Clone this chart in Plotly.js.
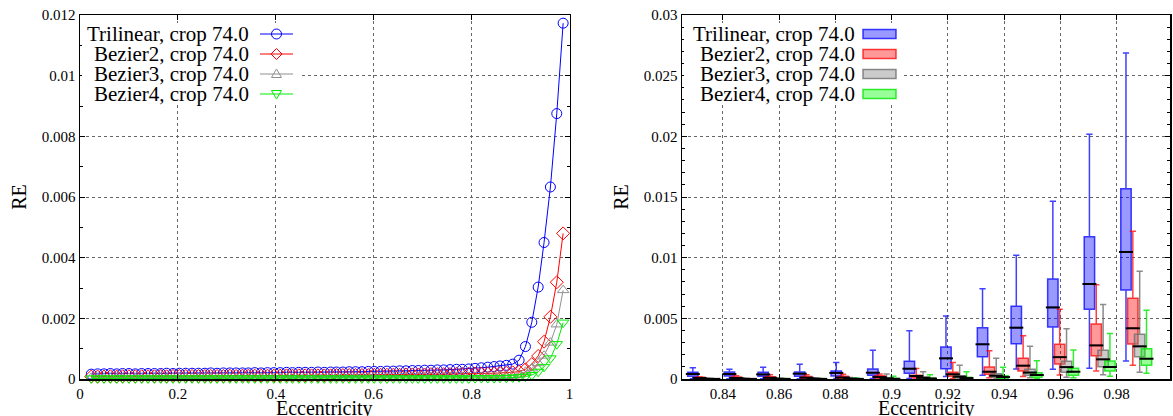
<!DOCTYPE html>
<html>
<head>
<meta charset="utf-8">
<script src="https://cdn.plot.ly/plotly-3.0.1.min.js"></script>
<style>html,body{margin:0;padding:0;background:#fff;}#chart{width:1173px;height:416px;}</style>
</head>
<body>
<div id="chart"></div>
<script>
// ---------- data ----------
const SERIES_NAMES = ['Trilinear, crop 74.0', 'Bezier2, crop 74.0', 'Bezier3, crop 74.0', 'Bezier4, crop 74.0'];

const ECC = [0.023,0.036,0.049,0.062,0.075,0.087,0.100,0.113,0.126,0.139,
  0.152,0.165,0.177,0.190,0.203,0.216,0.229,0.242,0.255,0.267,
  0.280,0.293,0.306,0.319,0.332,0.344,0.357,0.370,0.383,0.396,
  0.409,0.422,0.434,0.447,0.460,0.473,0.486,0.499,0.512,0.524,
  0.537,0.550,0.563,0.576,0.589,0.601,0.614,0.627,0.640,0.653,
  0.666,0.679,0.691,0.704,0.717,0.730,0.743,0.756,0.769,0.781,
  0.794,0.807,0.820,0.833,0.846,0.858,0.871,0.884,0.897,0.910,
  0.923,0.936,0.948,0.961,0.974,0.987];

const TRILINEAR = [0.00016,0.00017,0.00017,0.00018,0.00017,0.00018,0.00018,0.00017,0.00018,0.00018,
  0.00018,0.00018,0.00019,0.00018,0.00019,0.00019,0.00019,0.00019,0.00019,0.00020,
  0.00019,0.00020,0.00020,0.00020,0.00020,0.00020,0.00021,0.00020,0.00021,0.00021,
  0.00021,0.00022,0.00021,0.00022,0.00022,0.00022,0.00023,0.00022,0.00023,0.00023,
  0.00023,0.00024,0.00024,0.00024,0.00025,0.00025,0.00025,0.00026,0.00026,0.00027,
  0.00027,0.00028,0.00028,0.00029,0.00029,0.00030,0.00030,0.00031,0.00032,0.00032,
  0.00033,0.00035,0.00037,0.00039,0.00041,0.00043,0.00045,0.00049,0.00062,0.00107,
  0.00187,0.00303,0.00450,0.00633,0.00875,0.01173];

const BEZIER2 = [0.00008,0.00008,0.00008,0.00009,0.00008,0.00009,0.00009,0.00009,0.00009,0.00009,
  0.00009,0.00010,0.00009,0.00010,0.00010,0.00010,0.00010,0.00010,0.00010,0.00010,
  0.00010,0.00010,0.00011,0.00010,0.00011,0.00011,0.00011,0.00011,0.00011,0.00011,
  0.00011,0.00012,0.00011,0.00012,0.00012,0.00012,0.00012,0.00012,0.00012,0.00013,
  0.00013,0.00013,0.00013,0.00013,0.00013,0.00014,0.00014,0.00014,0.00014,0.00014,
  0.00015,0.00015,0.00015,0.00015,0.00016,0.00016,0.00016,0.00016,0.00017,0.00017,
  0.00017,0.00018,0.00018,0.00018,0.00019,0.00020,0.00021,0.00022,0.00024,0.00032,
  0.00049,0.00076,0.00123,0.00205,0.00319,0.00480];

const BEZIER3 = [0.00004,0.00004,0.00004,0.00004,0.00004,0.00004,0.00004,0.00004,0.00004,0.00004,
  0.00005,0.00005,0.00005,0.00005,0.00005,0.00005,0.00005,0.00005,0.00005,0.00005,
  0.00005,0.00005,0.00005,0.00005,0.00005,0.00005,0.00005,0.00005,0.00005,0.00005,
  0.00006,0.00006,0.00006,0.00006,0.00006,0.00006,0.00006,0.00006,0.00006,0.00006,
  0.00006,0.00006,0.00006,0.00006,0.00006,0.00006,0.00006,0.00006,0.00006,0.00006,
  0.00007,0.00007,0.00007,0.00007,0.00007,0.00007,0.00007,0.00007,0.00007,0.00007,
  0.00007,0.00007,0.00007,0.00008,0.00008,0.00009,0.00010,0.00011,0.00014,0.00024,
  0.00035,0.00052,0.00077,0.00120,0.00180,0.00293];

const BEZIER4 = [0.00002,0.00002,0.00002,0.00002,0.00002,0.00002,0.00002,0.00002,0.00002,0.00002,
  0.00002,0.00002,0.00002,0.00002,0.00002,0.00002,0.00002,0.00002,0.00002,0.00002,
  0.00002,0.00002,0.00002,0.00002,0.00002,0.00002,0.00002,0.00002,0.00002,0.00002,
  0.00002,0.00002,0.00002,0.00002,0.00002,0.00002,0.00002,0.00002,0.00002,0.00002,
  0.00002,0.00002,0.00002,0.00002,0.00002,0.00002,0.00002,0.00002,0.00002,0.00002,
  0.00002,0.00002,0.00002,0.00002,0.00002,0.00002,0.00002,0.00002,0.00002,0.00002,
  0.00002,0.00003,0.00003,0.00003,0.00003,0.00004,0.00004,0.00005,0.00006,0.00008,
  0.00013,0.00024,0.00040,0.00068,0.00115,0.00186];

// box-plot groups (right panel)
const BOX_ECC = [0.833,0.846,0.858,0.871,0.884,0.897,0.910,0.923,0.936,0.948,0.961,0.974,0.987];

const TRI_LO  = [0.00003,0.00003,0.00003,0.00003,0.00004,0.00005,0.00005,0.00020,0.00030,0.00082,0.00080,0.00088,0.00148];
const TRI_Q1  = [0.00022,0.00025,0.00022,0.00022,0.00025,0.00030,0.00047,0.00085,0.00184,0.00291,0.00429,0.00574,0.00733];
const TRI_MED = [0.00041,0.00041,0.00038,0.00044,0.00050,0.00052,0.00085,0.00170,0.00286,0.00423,0.00590,0.00783,0.01047];
const TRI_Q3  = [0.00055,0.00058,0.00055,0.00058,0.00066,0.00082,0.00147,0.00264,0.00423,0.00600,0.00824,0.01173,0.01569];
const TRI_HI  = [0.00093,0.00080,0.00096,0.00121,0.00135,0.00236,0.00397,0.00520,0.00744,0.01020,0.01464,0.02017,0.02687];

const BZ2_LO  = [0.00000,0.00000,0.00001,0.00001,0.00001,0.00002,0.00003,0.00005,0.00010,0.00020,0.00033,0.00066,0.00113];
const BZ2_Q1  = [0.00003,0.00003,0.00004,0.00004,0.00005,0.00008,0.00014,0.00022,0.00039,0.00065,0.00124,0.00192,0.00288];
const BZ2_MED = [0.00008,0.00008,0.00010,0.00011,0.00012,0.00016,0.00025,0.00039,0.00060,0.00110,0.00180,0.00277,0.00418];
const BZ2_Q3  = [0.00015,0.00016,0.00019,0.00020,0.00022,0.00026,0.00030,0.00055,0.00099,0.00170,0.00286,0.00453,0.00665];
const BZ2_HI  = [0.00019,0.00027,0.00036,0.00036,0.00040,0.00041,0.00087,0.00137,0.00233,0.00357,0.00574,0.00777,0.01217];

const BZ3_LO  = [0.00000,0.00000,0.00000,0.00000,0.00000,0.00000,0.00001,0.00002,0.00004,0.00010,0.00014,0.00036,0.00055];
const BZ3_Q1  = [0.00001,0.00001,0.00001,0.00001,0.00001,0.00002,0.00005,0.00010,0.00014,0.00030,0.00055,0.00101,0.00184];
const BZ3_MED = [0.00002,0.00002,0.00002,0.00003,0.00003,0.00005,0.00010,0.00019,0.00027,0.00053,0.00098,0.00162,0.00269];
const BZ3_Q3  = [0.00003,0.00003,0.00004,0.00004,0.00005,0.00008,0.00017,0.00027,0.00044,0.00081,0.00146,0.00236,0.00368];
const BZ3_HI  = [0.00006,0.00007,0.00008,0.00010,0.00013,0.00041,0.00060,0.00113,0.00170,0.00270,0.00415,0.00613,0.00888];

const BZ4_LO  = [0.00000,0.00000,0.00000,0.00000,0.00000,0.00000,0.00000,0.00001,0.00002,0.00005,0.00010,0.00022,0.00047];
const BZ4_Q1  = [0.00000,0.00000,0.00000,0.00000,0.00000,0.00001,0.00002,0.00003,0.00004,0.00014,0.00030,0.00066,0.00113];
const BZ4_MED = [0.00001,0.00001,0.00001,0.00001,0.00001,0.00002,0.00004,0.00008,0.00016,0.00033,0.00060,0.00099,0.00167];
const BZ4_Q3  = [0.00001,0.00001,0.00002,0.00002,0.00002,0.00004,0.00008,0.00014,0.00027,0.00052,0.00088,0.00148,0.00250];
const BZ4_HI  = [0.00003,0.00003,0.00004,0.00005,0.00008,0.00022,0.00035,0.00060,0.00096,0.00150,0.00238,0.00374,0.00566];

const X_TITLE = 'Eccentricity';
const Y_TITLE = 'RE';

// ---------- styling ----------
const W = 1173, H = 416;
const FONT = 'Liberation Serif, Times New Roman, serif';
const LINE_COLORS = ['#0000ff', '#ff0000', '#909090', '#00ee00'];
const BOX_LINE = ['rgba(0,0,255,0.75)', 'rgba(255,0,0,0.75)', 'rgba(110,110,110,0.8)', 'rgba(0,230,0,0.8)'];
const BOX_FILL = ['rgba(0,0,255,0.4)', 'rgba(255,0,0,0.4)', 'rgba(140,140,140,0.45)', 'rgba(0,255,0,0.4)'];
const SYMBOLS = ['circle-open', 'diamond-open', 'triangle-up-open', 'triangle-down-open'];
const SIZES = [10, 10, 10, 10];
const BOX_OFFSETS = [-0.00365, -0.00122, 0.00122, 0.00365];
const BOX_W = 0.0037;

const lineSeries = [TRILINEAR, BEZIER2, BEZIER3, BEZIER4];
const boxStats = [
  [TRI_LO, TRI_Q1, TRI_MED, TRI_Q3, TRI_HI],
  [BZ2_LO, BZ2_Q1, BZ2_MED, BZ2_Q3, BZ2_HI],
  [BZ3_LO, BZ3_Q1, BZ3_MED, BZ3_Q3, BZ3_HI],
  [BZ4_LO, BZ4_Q1, BZ4_MED, BZ4_Q3, BZ4_HI]
];

const traces = [];
lineSeries.forEach((ys, i) => {
  traces.push({
    type: 'scatter', mode: 'lines+markers', x: ECC, y: ys, xaxis: 'x', yaxis: 'y',
    name: SERIES_NAMES[i], showlegend: false, cliponaxis: false, hoverinfo: 'skip',
    line: {color: LINE_COLORS[i], width: 1},
    marker: {symbol: SYMBOLS[i], size: SIZES[i], color: LINE_COLORS[i], line: {width: 1, color: LINE_COLORS[i]}}
  });
});

boxStats.forEach((st, i) => {
  const xs = BOX_ECC.map(v => v + BOX_OFFSETS[i]);
  traces.push({
    type: 'box', orientation: 'v', x: xs, xaxis: 'x2', yaxis: 'y2',
    lowerfence: st[0], q1: st[1], median: st[2], q3: st[3], upperfence: st[4],
    name: SERIES_NAMES[i], showlegend: false, boxpoints: false, hoverinfo: 'skip',
    width: BOX_W, whiskerwidth: 0.6,
    fillcolor: BOX_FILL[i], line: {color: BOX_LINE[i], width: 1.5}
  });
});
boxStats.forEach((st, i) => {
  const xs = BOX_ECC.map(v => v + BOX_OFFSETS[i]);
  traces.push({
    type: 'scatter', mode: 'markers', x: xs, y: st[2], xaxis: 'x2', yaxis: 'y2',
    showlegend: false, hoverinfo: 'skip', cliponaxis: false,
    marker: {symbol: 'line-ew', size: 10, color: '#000', line: {width: 2, color: '#000'}}
  });
});

// ---------- legends (gnuplot style: opaque key box, text then sample) ----------
const shapes = [];
const annotations = [];
// opaque white key backgrounds (hide the dotted grid behind the keys)
shapes.push({type: 'rect', layer: 'above', xref: 'paper', yref: 'paper',
  x0: 82 / W, x1: 299 / W, y0: (H - 104) / H, y1: (H - 23) / H, fillcolor: '#fff', line: {width: 0}});
shapes.push({type: 'rect', layer: 'above', xref: 'paper', yref: 'paper',
  x0: 684 / W, x1: 901 / W, y0: (H - 104) / H, y1: (H - 23) / H, fillcolor: '#fff', line: {width: 0}});

const rowY = i => (H - (34 + 20 * i)) / H;
const markerPaths = [
  null,
  'M 0 5.5 L 5.5 0 L 0 -5.5 L -5.5 0 Z',
  'M -5 -3.5 L 5 -3.5 L 0 5 Z',
  'M -5 3.5 L 5 3.5 L 0 -5 Z'
];
SERIES_NAMES.forEach((name, i) => {
  const y = rowY(i);
  annotations.push({xref: 'paper', yref: 'paper', x: 251 / W, y: y, xanchor: 'right', yanchor: 'middle',
    text: name, showarrow: false, font: {family: FONT, size: 21, color: '#000'}});
  shapes.push({type: 'line', layer: 'above', xref: 'paper', yref: 'paper', x0: 260 / W, x1: 293 / W, y0: y, y1: y,
    line: {color: LINE_COLORS[i], width: 1}});
  const base = {layer: 'above', xref: 'paper', yref: 'paper', xsizemode: 'pixel', ysizemode: 'pixel',
    xanchor: 276.5 / W, yanchor: y, line: {color: LINE_COLORS[i], width: 1}, fillcolor: 'rgba(0,0,0,0)'};
  if (i === 0) shapes.push(Object.assign({type: 'circle', x0: -5, x1: 5, y0: -5, y1: 5}, base));
  else shapes.push(Object.assign({type: 'path', path: markerPaths[i]}, base));

  annotations.push({xref: 'paper', yref: 'paper', x: 857 / W, y: y, xanchor: 'right', yanchor: 'middle',
    text: name, showarrow: false, font: {family: FONT, size: 21, color: '#000'}});
  shapes.push({type: 'rect', layer: 'above', xref: 'paper', yref: 'paper', ysizemode: 'pixel', yanchor: y,
    x0: 863 / W, x1: 896 / W, y0: -4.5, y1: 4.5,
    fillcolor: BOX_FILL[i], line: {color: BOX_LINE[i], width: 1.5}});
});

// x-axis titles (placed at the very bottom, as in the reference)
const LEFT_DOMAIN = [80 / W, 569.5 / W];
const RIGHT_DOMAIN = [682 / W, 1170 / W];
[LEFT_DOMAIN, RIGHT_DOMAIN].forEach(d => {
  annotations.push({xref: 'paper', yref: 'paper', x: (d[0] + d[1]) / 2, y: -0.014, xanchor: 'center', yanchor: 'bottom',
    text: X_TITLE, showarrow: false, font: {family: FONT, size: 20, color: '#000'}});
});

// ---------- axes ----------
const tickFont = {family: FONT, size: 15, color: '#000'};
const titleFont = {family: FONT, size: 20, color: '#000'};
const common = {
  showline: true, linecolor: '#000', linewidth: 1.5, mirror: 'ticks',
  ticks: 'inside', ticklen: 5, tickwidth: 1, tickcolor: '#000',
  showgrid: true, gridcolor: '#666', gridwidth: 1, griddash: 'dot',
  zeroline: false, tickfont: tickFont, automargin: false
};
const yDomain = [37 / H, (H - 15) / H];

const layout = {
  width: W, height: H,
  margin: {l: 0, r: 0, t: 0, b: 0},
  paper_bgcolor: '#fff', plot_bgcolor: '#fff',
  showlegend: false, boxmode: 'overlay',
  xaxis: Object.assign({}, common, {domain: LEFT_DOMAIN, range: [0, 1], tick0: 0, dtick: 0.2, anchor: 'y'}),
  yaxis: Object.assign({}, common, {domain: yDomain, range: [0, 0.012], tick0: 0, dtick: 0.002, anchor: 'x',
    minor: {ticks: 'inside', ticklen: 3, dtick: 0.001, tick0: 0, tickcolor: '#000', showgrid: false},
    title: {text: Y_TITLE, font: titleFont, standoff: 10}}),
  xaxis2: Object.assign({}, common, {domain: RIGHT_DOMAIN, range: [0.8255, 0.999], tick0: 0.84, dtick: 0.02, anchor: 'y2'}),
  yaxis2: Object.assign({}, common, {domain: yDomain, range: [0, 0.03], tick0: 0, dtick: 0.005, anchor: 'x2',
    minor: {ticks: 'inside', ticklen: 3, dtick: 0.001, tick0: 0, tickcolor: '#000', showgrid: false},
    title: {text: Y_TITLE, font: titleFont, standoff: 10}}),
  shapes: shapes,
  annotations: annotations
};

Plotly.newPlot('chart', traces, layout, {staticPlot: true, displayModeBar: false});
</script>
</body>
</html>
